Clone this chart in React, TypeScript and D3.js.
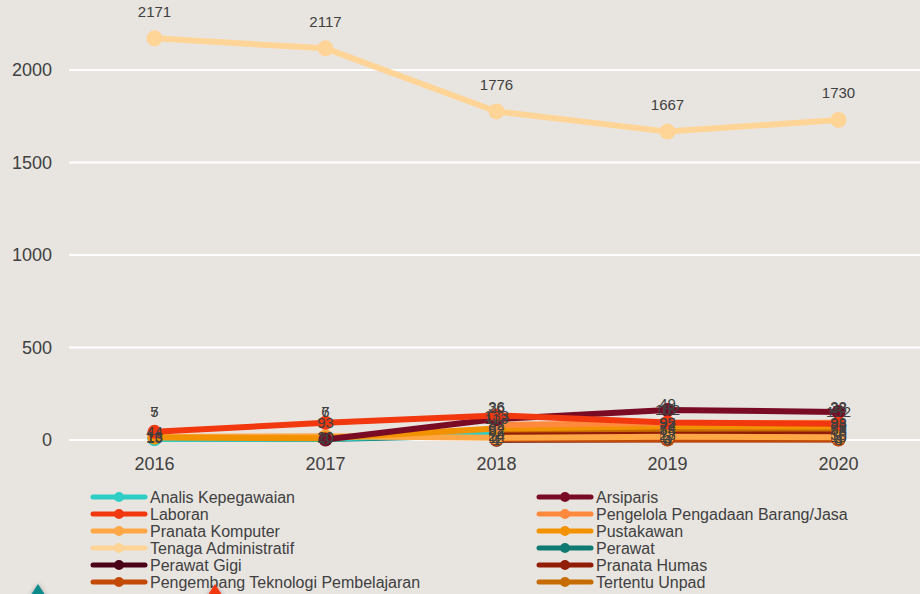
import React from "react";
import * as d3 from "d3";

const years = ["2016", "2017", "2018", "2019", "2020"];
const yTicks = [0, 500, 1000, 1500, 2000];

// series names, in legend order (row by row, two columns)
const names = [
  "Analis Kepegawaian",
  "Arsiparis",
  "Laboran",
  "Pengelola Pengadaan Barang/Jasa",
  "Pranata Komputer",
  "Pustakawan",
  "Tenaga Administratif",
  "Perawat",
  "Perawat Gigi",
  "Pranata Humas",
  "Pengembang Teknologi Pembelajaran",
  "Tertentu Unpad",
];

const colors = [
  "#2ecdc6",
  "#7a0b24",
  "#f2380f",
  "#ff8a3d",
  "#ffa744",
  "#f39200",
  "#ffd497",
  "#0f7a72",
  "#4a0016",
  "#921d07",
  "#c24a06",
  "#c76c02",
];

// values per year (null = no data that year)
const analis = [5, 7, 36, 49, 28];
const arsiparis = [null, 3, 113, 162, 152];
const laboran = [44, 93, 133, 95, 88];
const pengelola = [null, null, 82, 92, 93];
const pranataKomputer = [16, 20, 12, 17, 15];
const pustakawan = [13, 10, 62, 74, 73];
const tenaga = [2171, 2117, 1776, 1667, 1730];
const perawat = [7, 6, 26, 18, 32];
const perawatGigi = [null, null, 1, 4, 4];
const pranataHumas = [null, null, 24, 28, 30];
const pengembang = [null, null, 4, 3, 3];
const tertentu = [null, null, 52, 54, 58];

const values = [
  analis, arsiparis, laboran, pengelola, pranataKomputer, pustakawan,
  tenaga, perawat, perawatGigi, pranataHumas, pengembang, tertentu,
];

// series whose labels sit above the point
const labelAbove = [true, false, false, false, false, false, true, true, false, false, false, false];

// draw order: small series first, big one last
const drawOrder = [7, 0, 8, 10, 11, 9, 4, 5, 3, 1, 2, 6];

const W = 920;
const H = 594;

export default function App() {
  const x = d3.scaleBand<string>().domain(years).range([69, 924]);
  const y = d3.scaleLinear().domain([0, 2000]).range([440, 70]);
  const cx = (i: number) => (x(years[i]) as number) + x.bandwidth() / 2;

  const line = d3
    .line<number | null>()
    .defined((d) => d !== null)
    .x((_, i) => cx(i))
    .y((d) => y(d as number));

  const textColor = "#404040";
  const font = "'Liberation Sans', Arial, sans-serif";

  return (
    <svg
      width={W}
      height={H}
      style={{ position: "absolute", left: 0, top: 0, background: "#e8e5e1", fontFamily: font }}
    >
      <defs>
        <filter id="shadow" x="-50%" y="-50%" width="200%" height="200%">
          <feDropShadow dx="0" dy="0" stdDeviation="2" floodColor="#000" floodOpacity="0.3" />
        </filter>
      </defs>
      <rect width={W} height={H} fill="#e8e5e1" />

      {/* grid + y axis */}
      {yTicks.map((t) => (
        <g key={t}>
          <line x1={69} x2={W} y1={y(t)} y2={y(t)} stroke="#ffffff" strokeWidth={2} />
          <text x={52} y={y(t)} dy="0.35em" textAnchor="end" fontSize={18} fill={textColor}>
            {t}
          </text>
        </g>
      ))}

      {/* x axis labels */}
      {years.map((yr, i) => (
        <text key={yr} x={cx(i)} y={470} textAnchor="middle" fontSize={18} fill={textColor}>
          {yr}
        </text>
      ))}

      {/* lines */}
      {drawOrder.map((s) => (
        <path
          key={"l" + s}
          d={line(values[s]) || ""}
          fill="none"
          stroke={colors[s]}
          strokeWidth={6}
          strokeLinecap="round"
          strokeLinejoin="round"
        />
      ))}

      {/* markers */}
      {drawOrder.map((s) =>
        values[s].map((v, i) =>
          v === null ? null : (
            <circle key={"m" + s + "-" + i} cx={cx(i)} cy={y(v)} r={s === 6 ? 8 : 7} fill={colors[s]} />
          )
        )
      )}

      {/* data labels */}
      {drawOrder.map((s) =>
        values[s].map((v, i) =>
          v === null ? null : (
            <text
              key={"t" + s + "-" + i}
              x={cx(i)}
              y={y(v) - (labelAbove[s] ? 27 : 0)}
              dy="0.35em"
              textAnchor="middle"
              fontSize={15}
              fill={textColor}
            >
              {v}
            </text>
          )
        )
      )}

      {/* legend */}
      {names.map((n, i) => {
        const col = i % 2;
        const row = Math.floor(i / 2);
        const lx = col === 0 ? 91 : 537;
        const ly = 497 + row * 17;
        return (
          <g key={n}>
            <line x1={lx + 2} x2={lx + 54} y1={ly} y2={ly} stroke={colors[i]} strokeWidth={5} strokeLinecap="round" />
            <circle cx={lx + 28} cy={ly} r={5} fill={colors[i]} />
            <text x={lx + 59} y={ly} dy="0.35em" fontSize={16} fill={textColor}>
              {n}
            </text>
          </g>
        );
      })}

      {/* decorative slide triangles */}
      <path d="M38,584 L47,598 L29,598 Z" fill="#0e8a8a" filter="url(#shadow)" />
      <path d="M215,584 L224,598 L206,598 Z" fill="#f2380f" filter="url(#shadow)" />
    </svg>
  );
}
